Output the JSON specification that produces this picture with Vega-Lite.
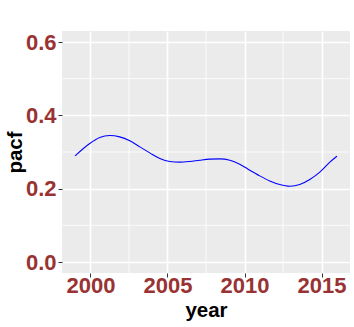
{
  "$schema": "https://vega.github.io/schema/vega-lite/v6.json",
  "autosize": {"type": "none"},
  "width": 288,
  "height": 242,
  "padding": {"left": 62, "top": 31, "right": 4, "bottom": 54},
  "background": "white",
  "config": {
    "view": {"fill": "#EBEBEB", "stroke": null},
    "font": "Liberation Sans",
    "axis": {
      "domain": false,
      "grid": true,
      "gridColor": "white",
      "gridWidth": 1.6,
      "tickColor": "#333333",
      "tickSize": 4,
      "tickWidth": 1,
      "labelFont": "Liberation Sans",
      "labelFontWeight": "bold",
      "labelFontSize": 22,
      "labelColor": "#993333",
      "titleFont": "Liberation Sans",
      "titleFontWeight": "bold",
      "titleFontSize": 20.5,
      "titleColor": "black"
    }
  },
  "datasets": {
    "curve": [
      {"year": 1999.0, "pacf": 0.2895},
      {"year": 1999.95, "pacf": 0.3233},
      {"year": 2000.6, "pacf": 0.3397},
      {"year": 2001.25, "pacf": 0.3452},
      {"year": 2001.9, "pacf": 0.3413},
      {"year": 2002.55, "pacf": 0.3304},
      {"year": 2003.2, "pacf": 0.314},
      {"year": 2003.85, "pacf": 0.2976},
      {"year": 2004.5, "pacf": 0.2824},
      {"year": 2005.15, "pacf": 0.2742},
      {"year": 2005.8, "pacf": 0.2723},
      {"year": 2006.45, "pacf": 0.2742},
      {"year": 2007.1, "pacf": 0.2777},
      {"year": 2007.75, "pacf": 0.2805},
      {"year": 2008.4, "pacf": 0.2813},
      {"year": 2009.05, "pacf": 0.2777},
      {"year": 2009.69, "pacf": 0.2668},
      {"year": 2010.34, "pacf": 0.2504},
      {"year": 2010.99, "pacf": 0.2349},
      {"year": 2011.64, "pacf": 0.2212},
      {"year": 2012.29, "pacf": 0.2114},
      {"year": 2012.94, "pacf": 0.2067},
      {"year": 2013.59, "pacf": 0.2114},
      {"year": 2014.24, "pacf": 0.225},
      {"year": 2014.89, "pacf": 0.245},
      {"year": 2015.54, "pacf": 0.2723},
      {"year": 2016.0, "pacf": 0.2886}
    ],
    "minorx": [{"year": 2002.5}, {"year": 2007.5}, {"year": 2012.5}],
    "minory": [{"pacf": 0.1}, {"pacf": 0.3}, {"pacf": 0.5}]
  },
  "layer": [
    {
      "data": {"name": "minorx"},
      "mark": {"type": "rule", "color": "white", "strokeWidth": 0.8},
      "encoding": {
        "x": {"field": "year", "type": "quantitative"}
      }
    },
    {
      "data": {"name": "minory"},
      "mark": {"type": "rule", "color": "white", "strokeWidth": 0.8},
      "encoding": {
        "y": {"field": "pacf", "type": "quantitative"}
      }
    },
    {
      "data": {"name": "curve"},
      "mark": {"type": "line", "color": "blue", "strokeWidth": 1.1, "interpolate": "monotone"},
      "encoding": {
        "x": {
          "field": "year",
          "type": "quantitative",
          "scale": {"domain": [1998.15, 2016.85], "nice": false, "zero": false},
          "axis": {"values": [2000, 2005, 2010, 2015], "format": "d", "title": "year", "labelPadding": -2, "titlePadding": 4}
        },
        "y": {
          "field": "pacf",
          "type": "quantitative",
          "scale": {"domain": [-0.03, 0.63], "nice": false, "zero": false},
          "axis": {"values": [0, 0.2, 0.4, 0.6], "format": ".1f", "title": "pacf", "labelPadding": 2, "titlePadding": 0}
        }
      }
    }
  ]
}
